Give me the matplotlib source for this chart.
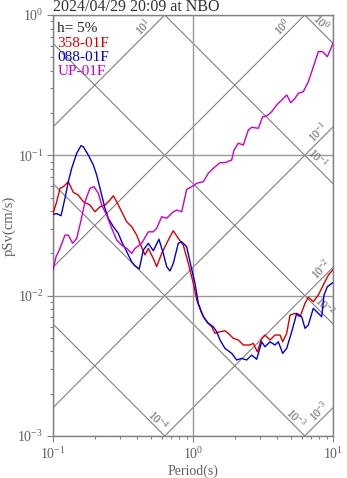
import numpy as np
import matplotlib
matplotlib.use("Agg")
import matplotlib.pyplot as plt
from matplotlib.ticker import LogLocator, NullFormatter

plt.rcParams['font.family'] = ['Liberation Serif', 'DejaVu Serif']
plt.rcParams['mathtext.fontset'] = 'custom'
plt.rcParams['mathtext.rm'] = 'Liberation Serif'
plt.rcParams['mathtext.it'] = 'Liberation Serif:italic'

title = "2024/04/29 20:09 at NBO"
damping = "h= 5%"

# 358-01F (red)
red_T = [0.100, 0.1063, 0.1122, 0.1185, 0.1286, 0.1338, 0.1396, 0.1516, 0.1646, 0.1837,
         0.1995, 0.2167, 0.2351, 0.2553, 0.2696, 0.2851, 0.3095, 0.3360, 0.3648, 0.3962,
         0.4135, 0.4542, 0.4795, 0.5206, 0.5503, 0.5975, 0.6663, 0.7233, 0.7852, 0.8527,
         0.9256, 1.005, 1.063, 1.154, 1.253, 1.360, 1.436, 1.559, 1.692, 1.787,
         1.941, 2.107, 2.288, 2.553, 2.696, 2.879, 3.095, 3.268, 3.548, 3.852,
         4.182, 4.372, 4.669, 4.931, 5.353, 5.811, 6.310, 6.662, 7.233, 7.852,
         8.525, 9.255, 9.951]
red_sv = [0.0386, 0.0467, 0.0582, 0.0597, 0.0648, 0.0597, 0.0545, 0.0521, 0.0467, 0.0442,
          0.0396, 0.0430, 0.0442, 0.0480, 0.0515, 0.0467, 0.0396, 0.0336, 0.0310, 0.0270,
          0.0242, 0.0195, 0.0217, 0.0184, 0.0161, 0.0200, 0.0249, 0.0290, 0.0256, 0.0229,
          0.0170, 0.01224, 0.00930, 0.00748, 0.00652, 0.00600, 0.00539, 0.00553, 0.00562, 0.00539,
          0.00496, 0.00483, 0.00445, 0.00445, 0.00457, 0.00398, 0.00496, 0.00524, 0.00483, 0.00524,
          0.00524, 0.00469, 0.00539, 0.00727, 0.00748, 0.00707, 0.00881, 0.00973, 0.00905, 0.01010,
          0.01190, 0.01402, 0.01522]

# 088-01F (blue)
blue_T = [0.100, 0.1063, 0.1141, 0.1218, 0.1286, 0.1360, 0.1477, 0.1585, 0.1646, 0.1787,
          0.1941, 0.2051, 0.2167, 0.2351, 0.2483, 0.2696, 0.2927, 0.3095, 0.3360, 0.3648,
          0.3853, 0.4135, 0.4416, 0.4795, 0.5206, 0.5715, 0.6136, 0.6486, 0.6849, 0.7233,
          0.7852, 0.8304, 0.9016, 0.9519, 1.033, 1.091, 1.185, 1.286, 1.396, 1.477,
          1.559, 1.692, 1.889, 2.051, 2.228, 2.418, 2.626, 2.851, 3.095, 3.268,
          3.548, 3.852, 4.068, 4.372, 4.669, 5.070, 5.505, 5.976, 6.310, 6.662,
          7.233, 7.852, 8.305, 8.624, 9.105, 9.951]
blue_sv = [0.0380, 0.0384, 0.0371, 0.0494, 0.0648, 0.0808, 0.1033, 0.1171, 0.1151, 0.1005,
           0.0853, 0.0724, 0.0582, 0.0419, 0.0356, 0.0310, 0.0278, 0.0242, 0.0206, 0.0174,
           0.0163, 0.0155, 0.0211, 0.0236, 0.0209, 0.0252, 0.0200, 0.0161, 0.0150, 0.0170,
           0.0236, 0.0242, 0.0223, 0.0174, 0.01224, 0.00881, 0.00707, 0.00635, 0.00600, 0.00553,
           0.00483, 0.00421, 0.00388, 0.00348, 0.00357, 0.00348, 0.00377, 0.00352, 0.00469, 0.00432,
           0.00469, 0.00445, 0.00469, 0.00388, 0.00421, 0.00553, 0.00748, 0.00707, 0.00585, 0.00617,
           0.00812, 0.00748, 0.00707, 0.01010, 0.01157, 0.01236]

# UP-01F (magenta)
up_T = [0.100, 0.1051, 0.1122, 0.1218, 0.1286, 0.1382, 0.1477, 0.1577, 0.1693, 0.1837,
        0.1963, 0.2107, 0.2228, 0.2418, 0.2626, 0.2851, 0.3095, 0.3360, 0.3648, 0.3853,
        0.4301, 0.4795, 0.5206, 0.5503, 0.5975, 0.6486, 0.7233, 0.7649, 0.8304, 0.8667,
        0.9016, 0.979, 1.063, 1.185, 1.286, 1.396, 1.559, 1.692, 1.889, 1.963,
        2.107, 2.288, 2.483, 2.626, 2.927, 3.147, 3.360, 3.648, 3.962, 4.301,
        4.669, 4.987, 5.353, 5.651, 6.137, 6.662, 7.046, 7.437, 7.852, 8.440,
        9.105, 9.788, 10.0]
up_sv = [0.0152, 0.0189, 0.0217, 0.0270, 0.0270, 0.0236, 0.0256, 0.0336, 0.0467, 0.0582,
         0.0597, 0.0536, 0.0442, 0.0375, 0.0302, 0.0249, 0.0229, 0.0217, 0.0200, 0.0217,
         0.0236, 0.0285, 0.0285, 0.0302, 0.0365, 0.0356, 0.0396, 0.0407, 0.0396, 0.0480,
         0.0572, 0.0597, 0.0632, 0.0648, 0.0744, 0.0808, 0.0886, 0.0886, 0.0926, 0.1091,
         0.1218, 0.1184, 0.1515, 0.1583, 0.1558, 0.1884, 0.1906, 0.2046, 0.2284, 0.2478,
         0.2691, 0.2371, 0.2548, 0.2766, 0.2840, 0.3346, 0.3943, 0.4646, 0.5477, 0.5477,
         0.5044, 0.5942, 0.6347]

series = [("358-01F", red_T, red_sv, "#dd0000"),
          ("088-01F", blue_T, blue_sv, "#0000dd"),
          ("UP-01F", up_T, up_sv, "#cc00cc")]

# tripartite reference lines: displacement (cm) and acceleration (gal)
disp_levels = [1e-4, 1e-3, 1e-2, 1e-1, 1e0]
disp_label_T = [0.522, 5.05, 8.01, 7.14, 7.62]
acc_levels = [1e-3, 1e-2, 1e-1, 1e0, 1e1]
acc_label_T = [8.62, 8.91, 8.48, 4.77, 0.477]

gray = "#808080"
txt_gray = "#606060"

fig = plt.figure(figsize=(3.47, 4.78), dpi=100)
ax = fig.add_axes([0.1527, 0.0879, 0.807, 0.8808])
ax.set_xscale("log")
ax.set_yscale("log")
ax.set_xlim(0.1, 10)
ax.set_ylim(0.001, 1)

tt = np.logspace(-1, 1, 200)
for D, lt in zip(disp_levels, disp_label_T):
    ax.plot(tt, 2 * np.pi * D / tt, color=gray, lw=0.8, zorder=1)
    e = int(round(np.log10(D)))
    ax.annotate(r"$\mathdefault{10^{%d}}$" % e, (lt, 2 * np.pi * D / lt),
                xytext=(3.3, 3.3), textcoords="offset points", rotation=-45,
                ha="center", va="center", fontsize=8.5, color=txt_gray,
                rotation_mode="anchor", annotation_clip=False)
for A, lt in zip(acc_levels, acc_label_T):
    ax.plot(tt, A * tt / (2 * np.pi), color=gray, lw=0.8, zorder=1)
    e = int(round(np.log10(A)))
    ax.annotate(r"$\mathdefault{10^{%d}}$" % e, (lt, A * lt / (2 * np.pi)),
                xytext=(-3.6, 3.6), textcoords="offset points", rotation=45,
                ha="center", va="center", fontsize=8.5, color=txt_gray,
                rotation_mode="anchor", annotation_clip=False)

ax.grid(True, which="major", color="#999999", lw=1.0, zorder=1)
ax.grid(False, which="minor")

for name, T, sv, c in series:
    ax.plot(T, sv, color=c, lw=1.0, zorder=3)

# legend as colored text
ax.text(0.015, 0.967, damping, transform=ax.transAxes, ha="left", va="center",
        fontsize=11, color="#222222")
for i, (name, T, sv, c) in enumerate(series):
    ax.text(0.015, 0.933 - i * 0.034, name, transform=ax.transAxes, ha="left",
            va="center", fontsize=11, color=c)

ax.set_title(title, loc="left", fontsize=11.5, color="#333333", pad=2)
ax.set_xlabel("Period(s)", fontsize=10, color=txt_gray, labelpad=2)
ax.set_ylabel("pSv(cm/s)", fontsize=10.5, color=txt_gray, labelpad=1)

for s in ax.spines.values():
    s.set_color(gray)
    s.set_linewidth(1.0)
ax.xaxis.set_major_locator(LogLocator(base=10, numticks=10))
ax.yaxis.set_major_locator(LogLocator(base=10, numticks=10))
ax.xaxis.set_minor_locator(LogLocator(base=10, subs=np.arange(2, 10), numticks=10))
ax.yaxis.set_minor_locator(LogLocator(base=10, subs=np.arange(2, 10), numticks=10))
ax.xaxis.set_minor_formatter(NullFormatter())
ax.yaxis.set_minor_formatter(NullFormatter())
ax.tick_params(which="major", length=4, width=0.8, color=gray, labelcolor=txt_gray,
               labelsize=10, pad=3, top=False, right=False, direction="out")
ax.tick_params(which="minor", length=2.3, width=0.8, color=gray, top=False,
               right=False, direction="out")

fig.savefig("out.png", dpi=100)
